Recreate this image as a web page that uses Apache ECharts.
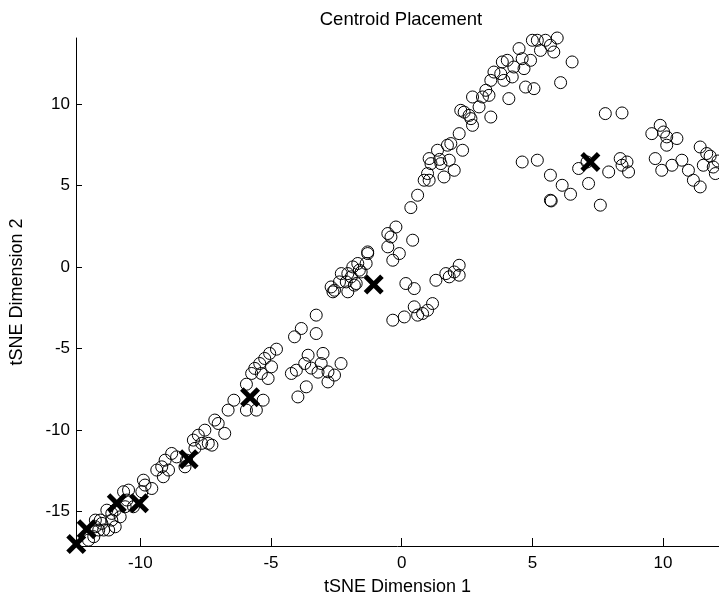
<!DOCTYPE html>
<html>
<head>
<meta charset="utf-8">
<script src="https://cdn.jsdelivr.net/npm/echarts@6/dist/echarts.min.js"></script>
<style>
  html, body { margin: 0; padding: 0; background: #fff; }
  #chart { width: 719px; height: 601px; }
</style>
</head>
<body>
<div id="chart"></div>
<script>
// t-SNE embedding of the samples (dimension 1, dimension 2)
const samplePoints = [
  // lower diagonal band
  [-11.98,-16.77],[-11.78,-16.56],[-11.72,-15.95],[-11.72,-15.54],[-11.59,-16.15],[-11.53,-15.54],
  [-11.47,-15.74],[-11.40,-16.15],[-11.28,-14.93],[-11.21,-16.15],[-11.09,-15.54],[-11.09,-15.13],
  [-10.96,-15.95],[-10.96,-14.93],[-10.77,-15.34],[-10.64,-13.80],[-10.58,-14.72],[-10.51,-14.31],
  [-10.45,-13.70],[-10.26,-14.72],[-9.94,-13.80],[-9.88,-13.09],[-9.82,-13.39],[-9.56,-13.60],
  [-9.37,-12.47],[-9.18,-12.27],[-9.12,-12.88],[-9.05,-11.86],[-8.92,-12.47],[-8.80,-11.45],
  [-8.61,-11.66],[-8.29,-12.27],[-8.23,-11.86],[-7.97,-10.63],[-7.91,-11.14],[-7.78,-10.33],
  [-7.65,-10.83],[-7.53,-10.02],[-7.40,-10.83],[-7.26,-10.94],[-7.15,-9.40],[-7.02,-9.61],
  [-6.77,-10.22],[-6.64,-8.79],[-6.42,-8.18],
  // middle band
  [-5.94,-7.20],[-5.94,-8.79],[-5.56,-8.79],[-5.30,-8.18],[-5.74,-6.54],[-5.62,-6.23],
  [-5.43,-5.93],[-5.24,-5.62],[-5.05,-5.31],[-4.79,-5.05],[-5.37,-6.54],[-5.11,-6.85],[-4.98,-6.13],
  // cluster left of the origin
  [-4.10,-4.29],[-3.84,-3.78],[-3.27,-2.96],[-3.27,-4.09],[-4.22,-6.54],[-4.03,-6.34],
  [-3.71,-5.93],[-3.58,-5.42],[-3.46,-6.21],[-3.20,-6.46],[-3.08,-5.93],[-3.01,-5.31],
  [-2.82,-6.44],[-2.57,-6.64],[-2.32,-5.93],[-3.65,-7.36],[-3.97,-7.98],[-2.82,-7.06],
  // arm towards the origin
  [-2.70,-1.23],[-2.63,-1.53],[-2.57,-1.43],[-2.38,-0.92],[-2.31,-0.41],[-2.12,-0.92],
  [-2.06,-0.41],[-2.06,-1.53],[-1.93,-0.61],[-1.87,0.00],[-1.81,-1.12],[-1.74,-1.02],
  [-1.68,0.21],[-1.62,-0.20],[-1.55,-0.31],[-1.36,0.21],[-1.30,0.92],[-1.30,0.82],
  [-0.53,2.05],[-0.53,1.23],[-0.41,1.84],[-0.34,0.41],[-0.22,2.45],[-0.09,0.82],
  [0.42,1.64],[0.35,3.64],[0.61,4.40],
  // cluster right of the origin
  [0.16,-1.02],[0.48,-1.33],[1.31,-0.82],[1.69,-0.41],[1.82,-0.61],[2.01,-0.31],
  [2.20,0.10],[2.20,-0.51],[-0.34,-3.27],[0.10,-3.07],[0.48,-2.45],[0.61,-2.96],
  [0.80,-2.86],[0.99,-2.66],[1.18,-2.25],
  // upper arc
  [0.86,5.32],[1.05,5.32],[0.99,5.73],[1.62,5.52],[2.01,5.93],[1.12,6.34],[1.05,6.65],
  [1.37,7.16],[1.50,6.34],[1.82,6.55],[1.75,7.47],[1.88,7.57],[2.33,7.16],[2.20,8.18],
  [1.45,6.60],[2.71,8.69],[2.26,9.61],[2.39,9.50],[2.58,9.30],[2.65,9.10],[2.96,9.82],
  [3.41,9.20],[2.71,10.43],[3.22,10.84],[3.34,10.53],[3.09,10.43],[3.41,11.45],[3.53,11.96],
  [3.79,11.86],[3.91,11.45],[4.23,11.66],[4.10,10.33],[4.74,11.04],[5.06,10.94],[3.85,12.58],
  [4.04,12.68],[4.29,12.27],[4.49,13.40],[4.61,12.78],[4.68,12.17],[4.93,12.68],[5.31,13.29],
  [5.50,13.91],[5.19,13.91],[5.00,13.91],[5.69,13.60],[5.82,13.19],[5.95,14.05],[6.52,12.58],
  [6.08,11.31],
  // right-hand cluster
  [4.61,6.44],[5.19,6.55],[7.79,9.41],[8.43,9.45],[5.69,5.63],[6.14,5.01],[6.46,4.46],
  [5.69,4.09],[5.72,4.05],[7.15,5.12],[7.60,3.79],[6.77,6.04],[7.09,6.44],[7.92,5.83],
  [8.36,6.65],[8.43,6.24],[8.68,5.83],[8.62,6.44],[9.57,8.18],[9.89,8.69],[10.02,8.28],
  [10.14,7.98],[10.53,7.88],[10.14,7.47],[9.70,6.65],[9.95,5.93],[10.34,6.24],[10.72,6.55],
  [10.97,5.93],[11.16,5.32],[11.42,4.91],[11.42,7.36],[11.67,6.96],[11.54,6.24],[11.92,6.13],
  [12.00,5.73],[11.80,6.80],[12.10,6.50]
];

// cluster centroids
const centroids = [
  [-12.45,-17.00],[-12.05,-16.10],[-10.90,-14.50],[-10.05,-14.50],
  [-8.15,-11.80],[-5.80,-8.00],[-1.07,-1.08],[7.22,6.44]
];

const xTicks = [-10, -5, 0, 5, 10];
const yTicks = [-15, -10, -5, 0, 5, 10];

const chartTitle = 'Centroid Placement';
const xName = 'tSNE Dimension 1';
const yName = 'tSNE Dimension 2';

const FONT = 'Liberation Sans, Arial, Helvetica, sans-serif';
const crossPath = 'path://M3.5,0 L10,6.5 L16.5,0 L20,3.5 L13.5,10 L20,16.5 L16.5,20 L10,13.5 L3.5,20 L0,16.5 L6.5,10 L0,3.5 Z';

const chart = echarts.init(document.getElementById('chart'), null, { renderer: 'canvas' });

const axisCommon = {
  type: 'value',
  splitLine: { show: false },
  axisLine: { show: true, onZero: false, lineStyle: { color: '#000', width: 1 } },
  nameLocation: 'middle',
  nameTextStyle: { color: '#000', fontFamily: FONT, fontSize: 18 }
};

chart.setOption({
  backgroundColor: '#fff',
  animation: false,
  title: {
    text: chartTitle,
    left: 396,
    textAlign: 'center',
    top: 5,
    textStyle: { color: '#000', fontFamily: FONT, fontSize: 18.5, fontWeight: 'normal' }
  },
  grid: { left: 74, right: 0, top: 38, bottom: 55 },
  xAxis: Object.assign({}, axisCommon, {
    min: -12.46, max: 12.14,
    name: xName, nameGap: 32,
    axisTick: { show: true, inside: true, length: 8, customValues: xTicks, lineStyle: { color: '#000' } },
    axisLabel: { customValues: xTicks, color: '#000', fontFamily: FONT, fontSize: 17, margin: 9 }
  }),
  yAxis: Object.assign({}, axisCommon, {
    min: -17.13, max: 14.05,
    name: yName, nameGap: 50,
    axisTick: { show: true, inside: true, length: 6, customValues: yTicks, lineStyle: { color: '#000' } },
    axisLabel: { customValues: yTicks, color: '#000', fontFamily: FONT, fontSize: 17, margin: 6 }
  }),
  series: [
    {
      type: 'scatter',
      data: samplePoints,
      symbol: 'circle',
      symbolSize: 12,
      itemStyle: { color: 'rgba(0,0,0,0)', borderColor: '#000', borderWidth: 1, opacity: 1 },
      emphasis: { disabled: true },
      z: 2
    },
    {
      type: 'scatter',
      data: centroids,
      symbol: crossPath,
      symbolSize: 20,
      itemStyle: { color: '#000', opacity: 1 },
      emphasis: { disabled: true },
      z: 3
    }
  ]
});
</script>
</body>
</html>
